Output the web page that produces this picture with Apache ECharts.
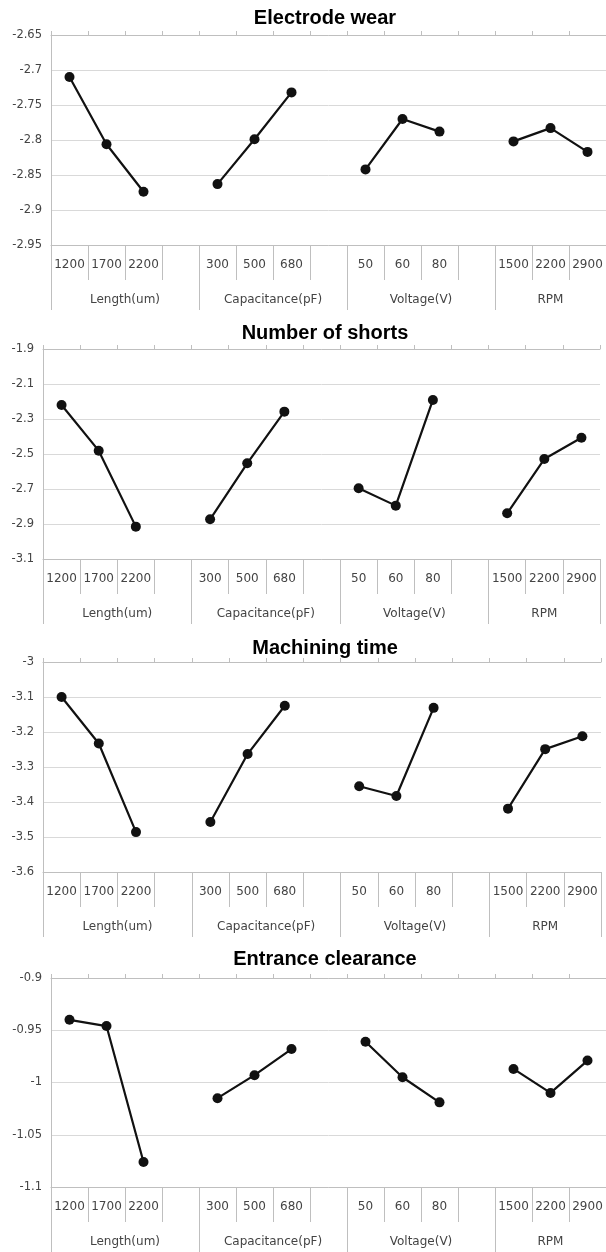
<!DOCTYPE html>
<html lang="en">
<head>
    <meta charset="UTF-8">
    <title>Main effects</title>
    <script type="text/javascript" src="https://cdn.jsdelivr.net/npm/echarts@6/dist/echarts.min.js"></script>
    <style>
        html, body { margin: 0; padding: 0; background: #fff; }
        #main { width: 606px; height: 1252px; }
    </style>
</head>
<body>
<div id="main"></div>
<script>

    // 水平级别（空位用来断开折线）
    let levels = ['1200', '1700', '2200', '', '300', '500', '680', '', '50', '60', '80', '', '1500', '2200', '2900'];
    let factors = ['Length(um)', 'Capacitance(pF)', 'Voltage(V)', 'RPM'];
    let factorCenters = [2, 6, 10, 13.5];
    let factorBounds = [0, 4, 8, 12, 15];

    let titles = ['Electrode wear', 'Number of shorts', 'Machining time', 'Entrance clearance'];

    // 各图数值 (null = 组间空位)
    let electrodeWear = [-2.710, -2.806, -2.874, null, -2.863, -2.799, -2.732, null, -2.842, -2.770, -2.788, null, -2.802, -2.783, -2.817];
    let shorts = [-2.220, -2.481, -2.915, null, -2.873, -2.553, -2.258, null, -2.696, -2.795, -2.191, null, -2.839, -2.529, -2.407];
    let machTime = [-3.100, -3.233, -3.486, null, -3.457, -3.263, -3.125, null, -3.355, -3.383, -3.131, null, -3.419, -3.249, -3.212];
    let clearance = [-0.940, -0.946, -1.076, null, -1.015, -0.993, -0.968, null, -0.961, -0.995, -1.019, null, -0.987, -1.010, -0.979];

    // y 轴刻度 [min, max, interval]
    let yMin = [-2.95, -3.1, -3.6, -1.1];
    let yMax = [-2.65, -1.9, -3.0, -0.9];
    let yStep = [0.05, 0.2, 0.1, 0.05];

    let allData = [electrodeWear, shorts, machTime, clearance];

    // 每个小图的位置
    let boxes = [
        {left: 51, top: 35, width: 555, height: 210, titleTop: 8},
        {left: 43, top: 349, width: 557, height: 210, titleTop: 323},
        {left: 43, top: 662, width: 558, height: 210, titleTop: 638},
        {left: 51, top: 978, width: 558, height: 209, titleTop: 949}
    ];

    let labelFont = 'DejaVu Sans';
    let grayLine = '#bfbfbf';

    function view() {
        var myChart = echarts.init(document.getElementById('main'));
        var title = [], grid = [], xAxis = [], yAxis = [], series = [];

        for (let i = 0; i < 4; i++) {
            let b = boxes[i];
            title.push({
                text: titles[i],
                left: 325,
                top: b.titleTop,
                textAlign: 'center',
                padding: 0,
                textStyle: {fontFamily: 'Liberation Sans', fontWeight: 'bold', fontSize: 20, color: '#000'}
            });
            grid.push({left: b.left, top: b.top, width: b.width, height: b.height});

            // 第一层类别标签
            xAxis.push({
                type: 'category', gridIndex: i, position: 'bottom', data: levels, boundaryGap: true,
                axisLine: {show: true, lineStyle: {color: grayLine, width: 1}},
                axisTick: {show: true, interval: 0, length: 35, lineStyle: {color: grayLine}},
                axisLabel: {interval: 0, margin: 14, fontFamily: labelFont, fontSize: 12, color: '#444'},
                splitLine: {show: false}
            });
            // 第二层 因素名
            xAxis.push({
                type: 'value', gridIndex: i, position: 'bottom', min: 0, max: 15,
                axisLine: {show: false},
                axisTick: {show: true, customValues: factorBounds, length: 65, lineStyle: {color: grayLine}},
                axisLabel: {
                    customValues: factorCenters, margin: 49, fontFamily: labelFont, fontSize: 12, color: '#444',
                    formatter: function (v) {
                        let k = factorCenters.indexOf(v);
                        return k >= 0 ? factors[k] : '';
                    }
                },
                splitLine: {show: false}
            });
            // 顶部的短刻度
            xAxis.push({
                type: 'category', gridIndex: i, position: 'top', data: levels, boundaryGap: true,
                axisLine: {show: true, lineStyle: {color: grayLine, width: 1}},
                axisTick: {show: true, interval: 0, length: 4, lineStyle: {color: grayLine}},
                axisLabel: {show: false},
                splitLine: {show: false}
            });

            yAxis.push({
                type: 'value', gridIndex: i, min: yMin[i], max: yMax[i], interval: yStep[i],
                axisLine: {show: true, lineStyle: {color: grayLine}},
                axisTick: {show: false},
                axisLabel: {
                    margin: 9, fontFamily: labelFont, fontSize: 11.5, color: '#444',
                    formatter: function (v) { return String(parseFloat(v.toFixed(2))); }
                },
                splitLine: {show: true, lineStyle: {color: '#d9d9d9', width: 1}}
            });

            series.push({
                type: 'line', xAxisIndex: i * 3, yAxisIndex: i,
                data: allData[i],
                connectNulls: false,
                symbol: 'circle', symbolSize: 10,
                itemStyle: {color: '#111'},
                lineStyle: {color: '#111', width: 2.2},
                animation: false
            });
        }

        myChart.setOption({
            animation: false,
            title: title, grid: grid, xAxis: xAxis, yAxis: yAxis, series: series
        });
    }

    view();

</script>
</body>
</html>
